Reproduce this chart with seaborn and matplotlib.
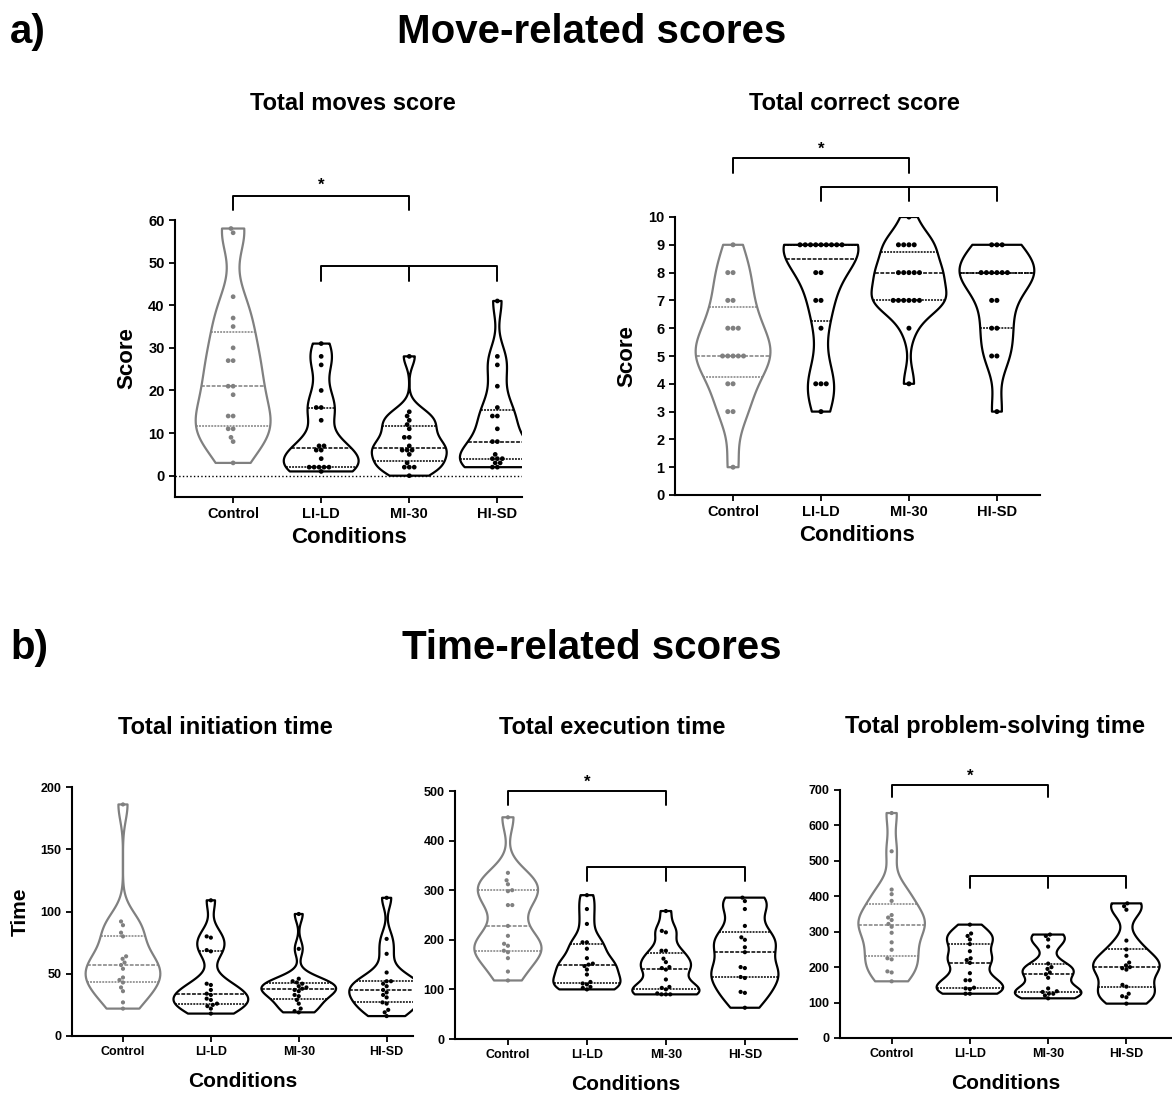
import numpy as np
import pandas as pd
import matplotlib.pyplot as plt
import seaborn as sns
import warnings

warnings.filterwarnings('ignore')

conditions = ['Control', 'LI-LD', 'MI-30', 'HI-SD']

# Total moves score
moves_control = [58, 57, 42, 37, 35, 30, 27, 27, 21, 21, 19, 14, 14, 11, 11, 9, 8, 3]
moves_lild = [31, 28, 26, 20, 16, 16, 13, 7, 7, 6, 6, 4, 2, 2, 2, 2, 2, 1]
moves_mi30 = [28, 15, 14, 13, 12, 11, 9, 9, 7, 6, 6, 6, 5, 3, 2, 2, 2, 0]
moves_hisd = [41, 28, 26, 21, 16, 14, 14, 11, 8, 8, 5, 4, 4, 4, 3, 3, 2, 2]

# Total correct score
correct_control = [9, 8, 8, 7, 7, 6, 6, 6, 5, 5, 5, 5, 5, 4, 4, 3, 3, 1]
correct_lild = [9, 9, 9, 9, 9, 9, 9, 9, 9, 8, 8, 7, 7, 6, 4, 4, 4, 3]
correct_mi30 = [10, 9, 9, 9, 9, 8, 8, 8, 8, 8, 7, 7, 7, 7, 7, 7, 6, 4]
correct_hisd = [9, 9, 9, 8, 8, 8, 8, 8, 8, 7, 7, 6, 6, 5, 5, 3]

# Total initiation time
init_control = [186, 92, 89, 83, 80, 64, 62, 59, 57, 54, 47, 45, 43, 39, 36, 27, 22]
init_lild = [109, 80, 79, 69, 68, 42, 41, 37, 34, 33, 30, 29, 26, 25, 24, 22, 18]
init_mi30 = [98, 70, 46, 44, 43, 42, 40, 39, 38, 37, 36, 33, 32, 29, 26, 22, 20, 19]
init_hisd = [111, 78, 66, 51, 44, 44, 42, 40, 37, 35, 33, 31, 27, 26, 21, 19, 16]

# Total execution time
exec_control = [447, 335, 320, 312, 300, 298, 270, 270, 228, 208, 192, 188, 178, 175, 163, 136, 118]
exec_lild = [290, 262, 232, 195, 195, 182, 163, 152, 150, 147, 140, 130, 115, 112, 110, 105, 103, 100]
exec_mi30 = [258, 218, 215, 178, 178, 162, 155, 145, 143, 140, 120, 105, 103, 100, 92, 90, 90, 90]
exec_hisd = [285, 278, 262, 228, 205, 200, 185, 175, 145, 143, 125, 123, 95, 93, 63]

# Total problem-solving time
prob_control = [635, 527, 419, 406, 387, 347, 340, 333, 322, 314, 297, 270, 249, 225, 222, 188, 185, 160]
prob_lild = [320, 295, 288, 278, 265, 245, 225, 220, 212, 183, 163, 163, 142, 140, 138, 125, 125]
prob_mi30 = [292, 288, 278, 258, 210, 200, 195, 185, 180, 170, 140, 132, 130, 125, 125, 120, 112]
prob_hisd = [380, 372, 362, 275, 250, 232, 213, 205, 200, 197, 193, 150, 145, 125, 118, 115, 97]

palette = {'Control': '#808080', 'LI-LD': 'black', 'MI-30': 'black', 'HI-SD': 'black'}

sns.set_style('ticks')
plt.rcParams['font.family'] = ['Liberation Sans', 'DejaVu Sans']
plt.rcParams['font.weight'] = 'bold'
for key in ['text.color', 'axes.labelcolor', 'xtick.color', 'ytick.color', 'axes.edgecolor']:
    plt.rcParams[key] = 'black'

W, H = 1172, 1093
fig = plt.figure(figsize=(W / 100, H / 100), dpi=100)


def px_axes(l, t, r, b):
    return fig.add_axes([l / W, 1 - b / H, (r - l) / W, (b - t) / H])


def make_df(groups):
    rows = []
    for cond, vals in zip(conditions, groups):
        for v in vals:
            rows.append({'cond': cond, 'val': v})
    return pd.DataFrame(rows)


def violin(ax, groups, bw, width, dot, ticksize):
    df = make_df(groups)
    sns.violinplot(data=df, x='cond', y='val', hue='cond', palette=palette,
                   fill=False, inner='quart', cut=0, bw_adjust=bw,
                   density_norm='area', width=width, linewidth=1.6,
                   inner_kws={'linewidth': 1.1}, legend=False, ax=ax)
    sns.swarmplot(data=df, x='cond', y='val', hue='cond', palette=palette,
                  size=dot, legend=False, ax=ax)
    sns.despine(ax=ax)
    for s in ['left', 'bottom']:
        ax.spines[s].set_linewidth(1.5)
    ax.tick_params(width=1.3, length=4, labelsize=ticksize, colors='black')
    for lab in ax.get_xticklabels() + ax.get_yticklabels():
        lab.set_fontweight('bold')
    ax.set_xlabel('')
    ax.set_ylabel('')


def bracket(ax, x0, x1, y, drop, mid=None, star=None, lw=1.4):
    ax.plot([x0, x0, x1, x1], [y - drop, y, y, y - drop], color='black', lw=lw, clip_on=False)
    if mid is not None:
        ax.plot([mid, mid], [y, y - drop], color='black', lw=lw, clip_on=False)
    if star is not None:
        ax.text((x0 + x1) / 2, star, '*', ha='center', va='center', fontsize=12,
                fontweight='bold', clip_on=False)


# a) Total moves score
ax1 = px_axes(175, 220, 522, 497)
violin(ax1, [moves_control, moves_lild, moves_mi30, moves_hisd], 0.6, 0.85, 3.4, 10.5)
ax1.axhline(0, color='black', ls=':', lw=1)
ax1.set_ylim(-5, 60)
ax1.set_yticks(range(0, 61, 10))
ax1.set_xlim(-0.66, 3.28)
bracket(ax1, 0, 2, 65.6, 3.3, star=68.2)
bracket(ax1, 1, 3, 49.3, 3.6, mid=2)
ax1.set_ylabel('Score', fontsize=16, fontweight='bold', labelpad=8)
ax1.set_xlabel('Conditions', fontsize=16, fontweight='bold', labelpad=4)

# a) Total correct score
ax2 = px_axes(675, 217, 1040, 495)
violin(ax2, [correct_control, correct_lild, correct_mi30, correct_hisd], 0.7, 0.85, 3.6, 10.5)
ax2.set_ylim(0, 10)
ax2.set_yticks(range(0, 11))
ax2.set_xlim(-0.66, 3.49)
bracket(ax2, 0, 2, 12.12, 0.52, star=12.45)
bracket(ax2, 1, 3, 11.09, 0.51, mid=2)
ax2.set_ylabel('Score', fontsize=16, fontweight='bold', labelpad=8)
ax2.set_xlabel('Conditions', fontsize=16, fontweight='bold', labelpad=4)

# b) Total initiation time
ax3 = px_axes(72, 787, 413, 1036)
violin(ax3, [init_control, init_lild, init_mi30, init_hisd], 0.6, 0.85, 3, 9)
ax3.set_ylim(0, 200)
ax3.set_yticks(range(0, 201, 50))
ax3.set_xlim(-0.58, 3.3)
ax3.set_ylabel('Time', fontsize=15, fontweight='bold', labelpad=8)
ax3.set_xlabel('Conditions', fontsize=15, fontweight='bold', labelpad=10)

# b) Total execution time
ax4 = px_axes(455, 791, 797, 1039)
violin(ax4, [exec_control, exec_lild, exec_mi30, exec_hisd], 0.6, 0.85, 3, 9)
ax4.set_ylim(0, 500)
ax4.set_yticks(range(0, 501, 100))
ax4.set_xlim(-0.67, 3.66)
bracket(ax4, 0, 2, 500, 28, star=518)
bracket(ax4, 1, 3, 347, 29, mid=2)
ax4.set_xlabel('Conditions', fontsize=15, fontweight='bold', labelpad=10)

# b) Total problem-solving time
ax5 = px_axes(840, 790, 1171, 1038)
violin(ax5, [prob_control, prob_lild, prob_mi30, prob_hisd], 0.6, 0.85, 3, 9)
ax5.set_ylim(0, 700)
ax5.set_yticks(range(0, 701, 100))
ax5.set_xlim(-0.66, 3.57)
bracket(ax5, 0, 2, 714, 34, star=739)
bracket(ax5, 1, 3, 457, 34, mid=2)
ax5.set_xlabel('Conditions', fontsize=15, fontweight='bold', labelpad=10)

# headings
fig.text(10 / W, 1 - 32 / H, 'a)', fontsize=29, fontweight='bold', va='center')
fig.text(592 / W, 1 - 32 / H, 'Move-related scores', fontsize=29, fontweight='bold',
         ha='center', va='center')
fig.text(10 / W, 1 - 648 / H, 'b)', fontsize=29, fontweight='bold', va='center')
fig.text(592 / W, 1 - 648 / H, 'Time-related scores', fontsize=29, fontweight='bold',
         ha='center', va='center')

sub = dict(fontsize=17, fontweight='bold', ha='center', va='center')
fig.text(353 / W, 1 - 103 / H, 'Total moves score', **sub)
fig.text(854 / W, 1 - 103 / H, 'Total correct score', **sub)
fig.text(225 / W, 1 - 727 / H, 'Total initiation time', **sub)
fig.text(612 / W, 1 - 727 / H, 'Total execution time', **sub)
fig.text(995 / W, 1 - 727 / H, 'Total problem-solving time', **sub)

fig.savefig('out.png', dpi=100)
